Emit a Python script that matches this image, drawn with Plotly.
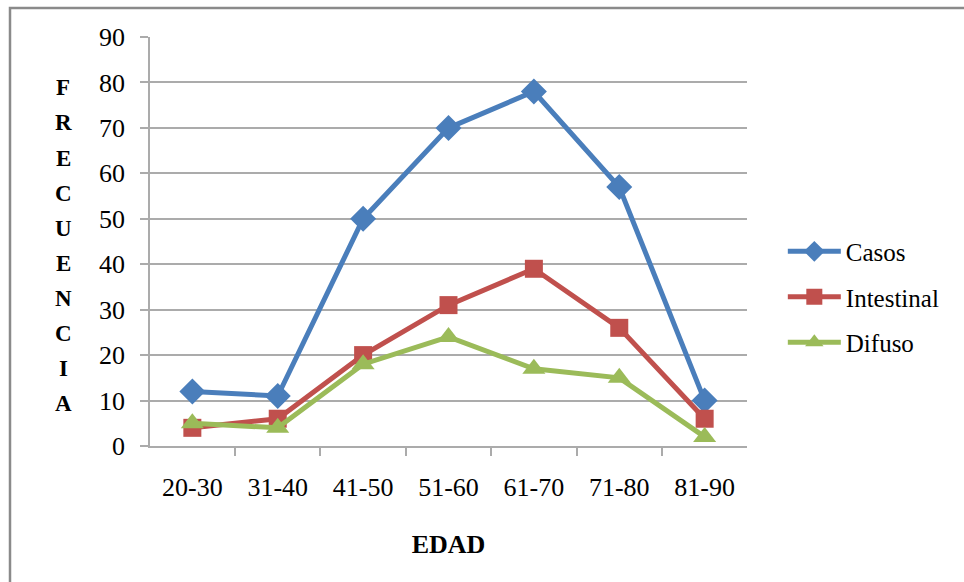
import plotly.graph_objects as go

# Age groups and case counts per histological type
edades = ["20-30", "31-40", "41-50", "51-60", "61-70", "71-80", "81-90"]
casos = [12, 11, 50, 70, 78, 57, 10]
intestinal = [4, 6, 20, 31, 39, 26, 6]
difuso = [5, 4, 18, 24, 17, 15, 2]

y_ticks = list(range(0, 91, 10))
y_title = "FRECUENCIA"
x_title = "EDAD"

FONT = "Liberation Serif, Times New Roman, serif"
GRID = "#ababab"

series = [
    ("Casos", casos, "#4a7ebb", "diamond", 20),
    ("Intestinal", intestinal, "#c0504d", "square", 18),
    ("Difuso", difuso, "#9bbb59", "triangle-up", 20),
]

fig = go.Figure()
for i, (name, vals, color, symbol, size) in enumerate(series):
    fig.add_trace(go.Scatter(
        x=edades, y=vals, name=name, mode="lines+markers",
        line=dict(color=color, width=5),
        marker=dict(symbol=symbol, size=size, color=color),
        legendgroup=f"g{i}",
    ))

# Vertical axis title drawn as a column of stacked letters
for k, ch in enumerate(y_title):
    fig.add_annotation(
        text=f"<b>{ch}</b>", xref="paper", yref="paper",
        x=(63 - 150) / 597, y=(446 - (88 + 35 * k)) / 409,
        showarrow=False, xanchor="center", yanchor="middle",
        font=dict(family=FONT, size=23, color="black"),
    )

# Chart frame
fig.add_shape(
    type="rect", xref="paper", yref="paper",
    x0=(10 - 150) / 597, x1=(975 - 150) / 597,
    y0=(446 - 600) / 409, y1=(446 - 8) / 409,
    line=dict(color="#8a8a8a", width=2.5), layer="below",
)

fig.update_layout(
    width=964, height=582,
    margin=dict(l=150, r=217, t=37, b=136),
    paper_bgcolor="white", plot_bgcolor="white",
    font=dict(family=FONT, size=26, color="black"),
    showlegend=True,
    legend=dict(
        x=1.06, y=0.364, xanchor="left", yanchor="middle",
        font=dict(family=FONT, size=25, color="black"),
        itemwidth=53, tracegroupgap=10, bgcolor="rgba(0,0,0,0)",
    ),
    xaxis=dict(
        type="category", showgrid=False, showline=True, linecolor=GRID,
        linewidth=1.5, ticks="outside", tickson="boundaries", ticklen=8,
        tickcolor=GRID, tickwidth=1.5, ticklabelstandoff=17,
        tickfont=dict(family=FONT, size=26),
        title=dict(text=f"<b>{x_title}</b>", standoff=34,
                   font=dict(family=FONT, size=26)),
        fixedrange=True,
    ),
    yaxis=dict(
        range=[0, 90], tickvals=y_ticks, showgrid=True, gridcolor=GRID,
        gridwidth=1.5, showline=True, linecolor=GRID, linewidth=1.5,
        ticks="outside", ticklen=8, tickcolor=GRID, tickwidth=1.5,
        ticklabelstandoff=10, tickfont=dict(family=FONT, size=26),
        zeroline=False, fixedrange=True,
    ),
)

fig.write_html("out.html")
